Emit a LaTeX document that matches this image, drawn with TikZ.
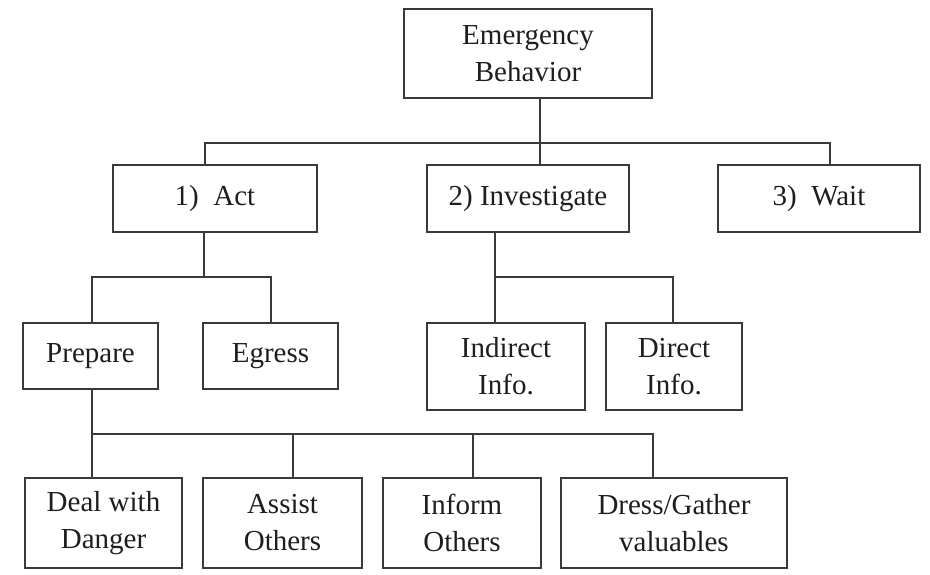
\documentclass[tikz,border=0pt]{standalone}
\usepackage{fontspec}
\setmainfont{Liberation Serif}
\definecolor{inkline}{HTML}{3A3A3A}
\definecolor{inktext}{HTML}{1E1E1E}
\begin{document}
\begin{tikzpicture}[x=1pt,y=-1pt,
  box/.style={draw=inkline, line width=1.8pt, fill=white, inner sep=0pt,
    align=center, text=inktext, font=\fontsize{29}{37}\selectfont},
  link/.style={draw=inkline, line width=1.8pt}]
  % canvas
  \fill[white] (0,0) rectangle (930,574);
  \useasboundingbox (0,0) rectangle (930,574);

  % boxes
  \node[box, minimum width=248pt, minimum height=89pt] (emer)   at (528,53.5)  {Emergency\\Behavior};
  \node[box, minimum width=204pt, minimum height=67pt] (act)    at (215,198.5) {1)\enspace Act};
  \node[box, minimum width=202pt, minimum height=67pt] (inv)    at (528,198.5) {2) Investigate};
  \node[box, minimum width=202pt, minimum height=67pt] (wait)   at (819,198.5) {3)\enspace Wait};
  \node[box, minimum width=135pt, minimum height=66pt] (prep)   at (90.5,356)  {Prepare};
  \node[box, minimum width=135pt, minimum height=66pt] (egr)    at (270.5,356) {Egress};
  \node[box, minimum width=158pt, minimum height=87pt] (ind)    at (506,366.5) {Indirect\\Info.};
  \node[box, minimum width=136pt, minimum height=87pt] (dir)    at (674,366.5) {Direct\\Info.};
  \node[box, minimum width=157pt, minimum height=90pt] (deal)   at (103.5,523) {Deal with\\Danger};
  \node[box, minimum width=159pt, minimum height=90pt] (assist) at (282.5,523) {Assist\\Others};
  \node[box, minimum width=158pt, minimum height=90pt] (inform) at (462,523)   {Inform\\Others};
  \node[box, minimum width=226pt, minimum height=90pt] (dress)  at (674,523)   {Dress/Gather\\valuables};

  % branch points of the tree
  \coordinate (b0)  at (540,143);
  \coordinate (b1a) at (205,143);
  \coordinate (b1c) at (830,143);
  \coordinate (a0)  at (204,277);
  \coordinate (a1)  at (92,277);
  \coordinate (a2)  at (271,277);
  \coordinate (i0)  at (495,277);
  \coordinate (i2)  at (673,277);
  \coordinate (p0)  at (92,434);
  \coordinate (p2)  at (293,434);
  \coordinate (p3)  at (473,434);
  \coordinate (p4)  at (653,434);

  % level 1
  \draw[link] (emer.south -| b0) -- (b0);
  \draw[link] (act.north -| b1a) -- (b1a) -- (b1c) -- (wait.north -| b1c);
  \draw[link] (inv.north -| b0) -- (b0);
  % under Act
  \draw[link] (act.south -| a0) -- (a0);
  \draw[link] (prep.north -| a1) -- (a1) -- (a2) -- (egr.north -| a2);
  % under Investigate
  \draw[link] (inv.south -| i0) -- (ind.north -| i0);
  \draw[link] (i0) -- (i2) -- (dir.north -| i2);
  % under Prepare
  \draw[link] (prep.south -| p0) -- (deal.north -| p0);
  \draw[link] (p0) -- (p4) -- (dress.north -| p4);
  \draw[link] (p2) -- (assist.north -| p2);
  \draw[link] (p3) -- (inform.north -| p3);
\end{tikzpicture}
\end{document}
